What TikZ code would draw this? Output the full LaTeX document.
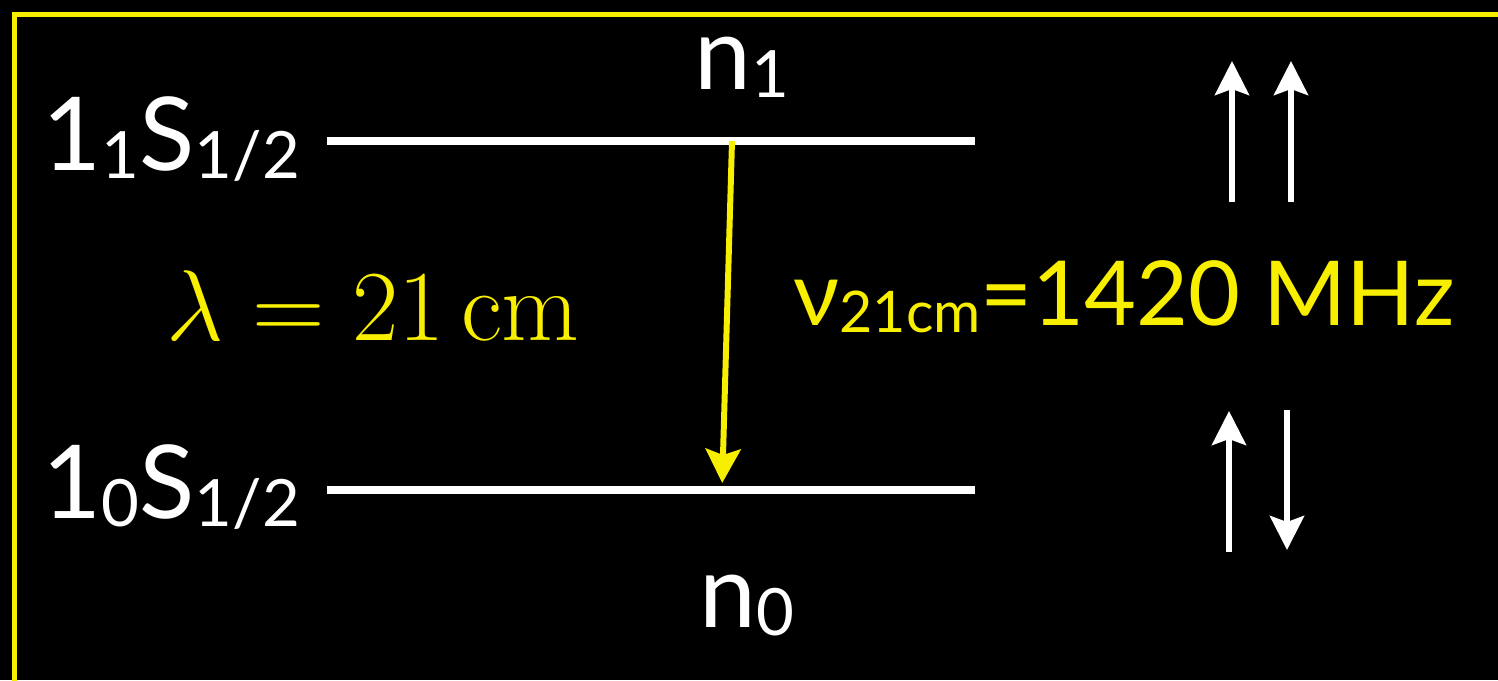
\documentclass[tikz,border=0pt]{standalone}
\usepackage[no-math]{fontspec}
\setmainfont{Lato}
\usetikzlibrary{arrows.meta}
\definecolor{hiyellow}{RGB}{248,238,0}
\newcommand{\lowsub}[1]{\raisebox{-0.08em}{\scalebox{0.64}{#1}}}

\begin{document}
\begin{tikzpicture}[
    level/.style={white,line width=2pt},
    spin/.style={white,line width=1.7pt,-{Stealth[length=3.4mm,width=3.4mm,inset=0.6mm]}},
    trans/.style={hiyellow,line width=1.7pt,-{Stealth[length=3.4mm,width=3.5mm,inset=0.6mm]}},
    term/.style={white,font=\fontsize{29}{34}\selectfont,inner sep=0pt}]
\useasboundingbox[fill=black] (0,0) rectangle (14.98,6.8);
\draw[hiyellow,line width=1.4pt] (0.145,-0.5) -- (0.145,6.655) -- (15.5,6.655);
% energy levels
\coordinate (u1) at (3.27,5.39);
\coordinate (u2) at (9.75,5.39);
\coordinate (l1) at (3.27,1.90);
\coordinate (l2) at (9.75,1.90);
\draw[level] (u1) -- (u2);
\draw[level] (l1) -- (l2);
\coordinate (ts) at (7.32,5.39);
\coordinate (te) at (7.22,1.90);
\draw[trans,shorten >=0.7mm] (ts) -- (te);
\node[term,anchor=base west] (s1) at (0.42,5.10) {1\lowsub{1}S\lowsub{1/2}};
\node[term,anchor=base west] (s0) at (0.42,1.62) {1\lowsub{0}S\lowsub{1/2}};
\node[term,anchor=base] (n1) at (7.42,5.91) {n\lowsub{1}};
\node[term,anchor=base] (n0) at (7.47,0.53) {n\lowsub{0}};
\node[hiyellow,anchor=base west,font=\fontsize{24.88}{30}\selectfont,inner sep=0pt] (lam) at (1.66,3.40) {\scalebox{1.15}{$\lambda = 21\,\mathrm{cm}$}};
\node[hiyellow,anchor=base west,font=\fontsize{25.5}{30}\selectfont,inner sep=0pt] (nu) at (7.93,3.55) {ν\lowsub{21cm}=1420 MHz};
% spins
\coordinate (a1) at (12.32,4.78);
\coordinate (a1t) at (12.32,6.19);
\coordinate (b1) at (12.91,4.78);
\coordinate (b1t) at (12.91,6.19);
\coordinate (a0) at (12.29,1.28);
\coordinate (a0t) at (12.29,2.69);
\coordinate (b0) at (12.87,2.70);
\coordinate (b0t) at (12.87,1.30);
\draw[spin] (a1) -- (a1t);
\draw[spin] (b1) -- (b1t);
\draw[spin] (a0) -- (a0t);
\draw[spin] (b0) -- (b0t);
\end{tikzpicture}
\end{document}
